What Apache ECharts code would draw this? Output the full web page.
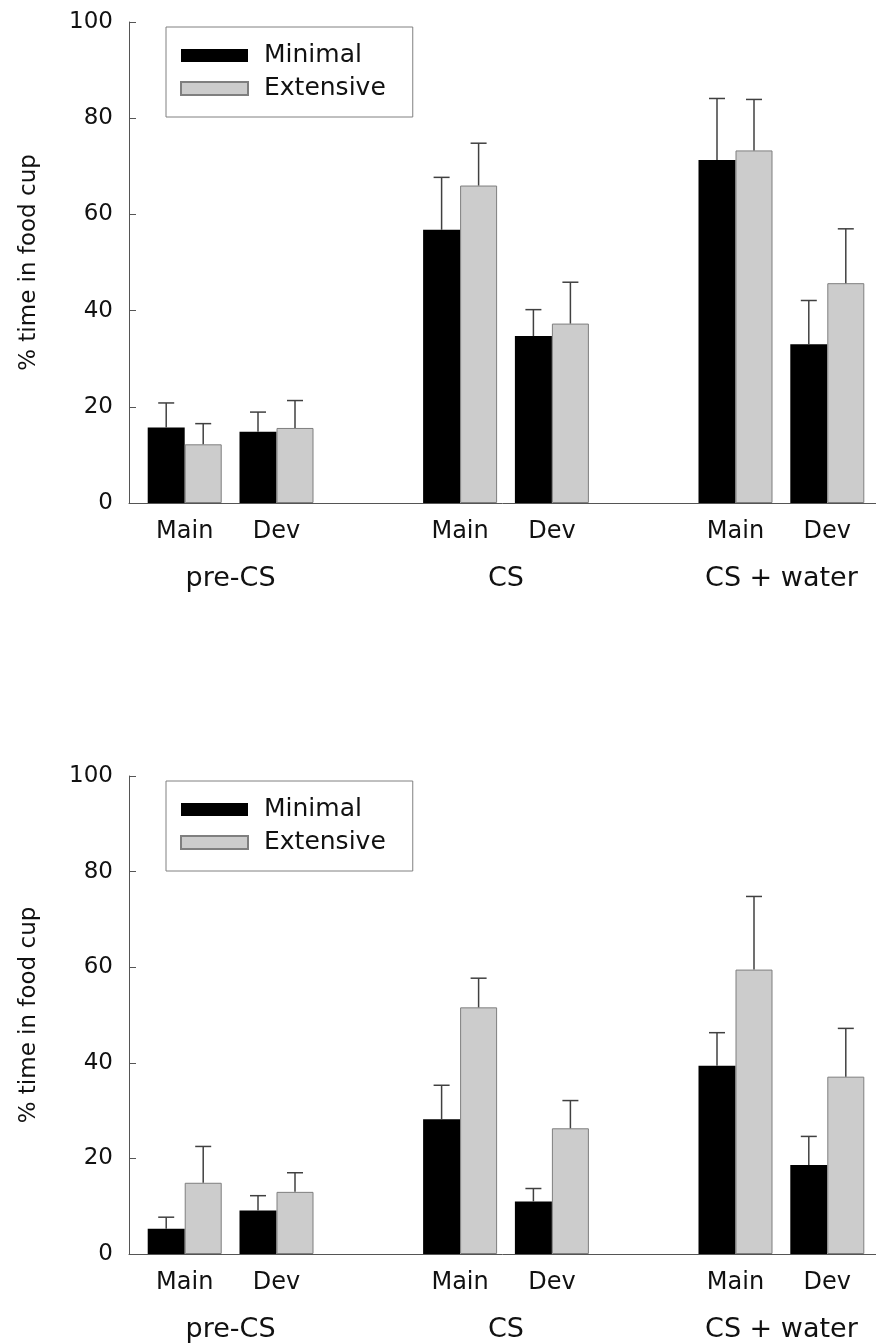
<!DOCTYPE html>
<html>
<head>
<meta charset="utf-8">
<script src="https://cdn.jsdelivr.net/npm/echarts@6/dist/echarts.min.js"></script>
<style>
  html, body { margin: 0; padding: 0; background: #fff; }
  #chart { width: 876px; height: 1343px; }
</style>
</head>
<body>
<div id="chart"></div>
<script>
// ---- data ----
const groups = ['pre-CS', 'CS', 'CS + water'];
const conditions = ['Main', 'Dev'];
const seriesNames = ['Minimal', 'Extensive'];
const yTicks = [0, 20, 40, 60, 80, 100];
const yTitle = '% time in food cup';

// top panel
const topMinimal = [15.7, 14.8, 56.8, 34.7, 71.3, 33.0];
const topMinimalErr = [5.1, 4.1, 10.9, 5.5, 12.8, 9.1];
const topExtensive = [12.2, 15.6, 66.0, 37.3, 73.3, 45.7];
const topExtensiveErr = [4.3, 5.7, 8.8, 8.6, 10.6, 11.3];

// bottom panel
const botMinimal = [5.3, 9.1, 28.2, 11.0, 39.4, 18.6];
const botMinimalErr = [2.4, 3.1, 7.1, 2.7, 6.9, 6.0];
const botExtensive = [14.9, 13.0, 51.6, 26.3, 59.5, 37.1];
const botExtensiveErr = [7.6, 4.0, 6.1, 5.8, 15.3, 10.1];

// ---- layout / style ----
const FONT = 'DejaVu Sans';
const BAR_W = 37;
const AXIS_COLOR = '#555';
const ERR_COLOR = '#404040';
const X_MIN = 0.3932, X_MAX = 8.5305;
const slotsPerGroup = conditions.length + 1;

// slot index of each bar pair (leaves an empty slot between groups)
const slots = [];
groups.forEach((g, gi) => conditions.forEach((c, ci) => slots.push(gi * slotsPerGroup + ci + 1)));
const groupCenters = groups.map((g, gi) => gi * slotsPerGroup + (conditions.length + 1) / 2);

const panels = [
  { top: 22, vals: [topMinimal, topExtensive], errs: [topMinimalErr, topExtensiveErr] },
  { top: 776, vals: [botMinimal, botExtensive], errs: [botMinimalErr, botExtensiveErr] }
];
const PANEL_H = 481;

const grids = [], xAxes = [], yAxes = [], series = [], legends = [];
const barStyles = [
  { color: '#000000', borderColor: '#000000', borderWidth: 0 },
  { color: '#cccccc', borderColor: '#7f7f7f', borderWidth: 1 }
];

panels.forEach((p, pi) => {
  grids.push({ left: 129, right: 0, top: p.top, height: PANEL_H, containLabel: false });
  // condition labels
  xAxes.push({
    type: 'value', gridIndex: pi, min: X_MIN, max: X_MAX,
    axisLine: { show: true, onZero: false, lineStyle: { color: AXIS_COLOR, width: 1 } },
    axisTick: { show: false },
    splitLine: { show: false },
    axisLabel: {
      customValues: slots,
      formatter: v => conditions[(Math.round(v) - 1) % slotsPerGroup] || '',
      fontFamily: FONT, fontSize: 24, color: '#111', margin: 17
    }
  });
  // group labels
  xAxes.push({
    type: 'value', gridIndex: pi, min: X_MIN, max: X_MAX, position: 'bottom',
    axisLine: { show: false }, axisTick: { show: false }, splitLine: { show: false },
    axisLabel: {
      customValues: groupCenters,
      formatter: v => groups[Math.floor((v - 1) / slotsPerGroup)] || '',
      fontFamily: FONT, fontSize: 27, color: '#111', margin: 62
    }
  });
  yAxes.push({
    type: 'value', gridIndex: pi, min: yTicks[0], max: yTicks[yTicks.length - 1],
    interval: yTicks[1] - yTicks[0],
    name: yTitle, nameLocation: 'middle', nameRotate: 90, nameGap: 88,
    nameTextStyle: { fontFamily: FONT, fontSize: 23, color: '#111' },
    axisLine: { show: true, lineStyle: { color: AXIS_COLOR, width: 1 } },
    axisTick: { show: true, inside: true, length: 7, lineStyle: { color: AXIS_COLOR, width: 1 } },
    splitLine: { show: false },
    axisLabel: { fontFamily: FONT, fontSize: 23, color: '#111', margin: 16 }
  });
  legends.push({
    orient: 'vertical', left: 166, top: p.top + 5,
    data: seriesNames, selectedMode: false,
    backgroundColor: '#fff',
    borderColor: '#808080', borderWidth: 1,
    padding: [16, 27, 16, 14],
    itemWidth: 67, itemHeight: 13, itemGap: 8,
    icon: 'rect',
    textStyle: { fontFamily: FONT, fontSize: 25, lineHeight: 25, color: '#111', padding: [0, 0, 0, 11] }
  });

  seriesNames.forEach((name, si) => {
    series.push({
      name: name, type: 'bar',
      xAxisIndex: pi * 2, yAxisIndex: pi,
      barWidth: BAR_W, barGap: '0%',
      itemStyle: barStyles[si],
      emphasis: { disabled: true },
      data: slots.map((s, i) => [s, p.vals[si][i]]),
      z: 2
    });
    const side = si === 0 ? -1 : 1;
    series.push({
      type: 'custom',
      xAxisIndex: pi * 2, yAxisIndex: pi,
      z: 3, silent: true,
      data: slots.map((s, i) => [s, p.vals[si][i], p.errs[si][i]]),
      renderItem: (params, api) => {
        const x = api.value(0), m = api.value(1), e = api.value(2);
        const b = api.coord([x, m]);
        const t = api.coord([x, m + e]);
        const cx = b[0] + side * BAR_W / 2;
        const style = { stroke: ERR_COLOR, lineWidth: 1.5 };
        return {
          type: 'group',
          children: [
            { type: 'line', shape: { x1: cx, y1: b[1], x2: cx, y2: t[1] }, style },
            { type: 'line', shape: { x1: cx - 8, y1: t[1], x2: cx + 8, y2: t[1] }, style }
          ]
        };
      }
    });
  });
});

const chart = echarts.init(document.getElementById('chart'), null, { renderer: 'canvas' });
chart.setOption({
  backgroundColor: '#fff',
  animation: false,
  grid: grids, xAxis: xAxes, yAxis: yAxes, legend: legends, series: series
});
</script>
</body>
</html>
